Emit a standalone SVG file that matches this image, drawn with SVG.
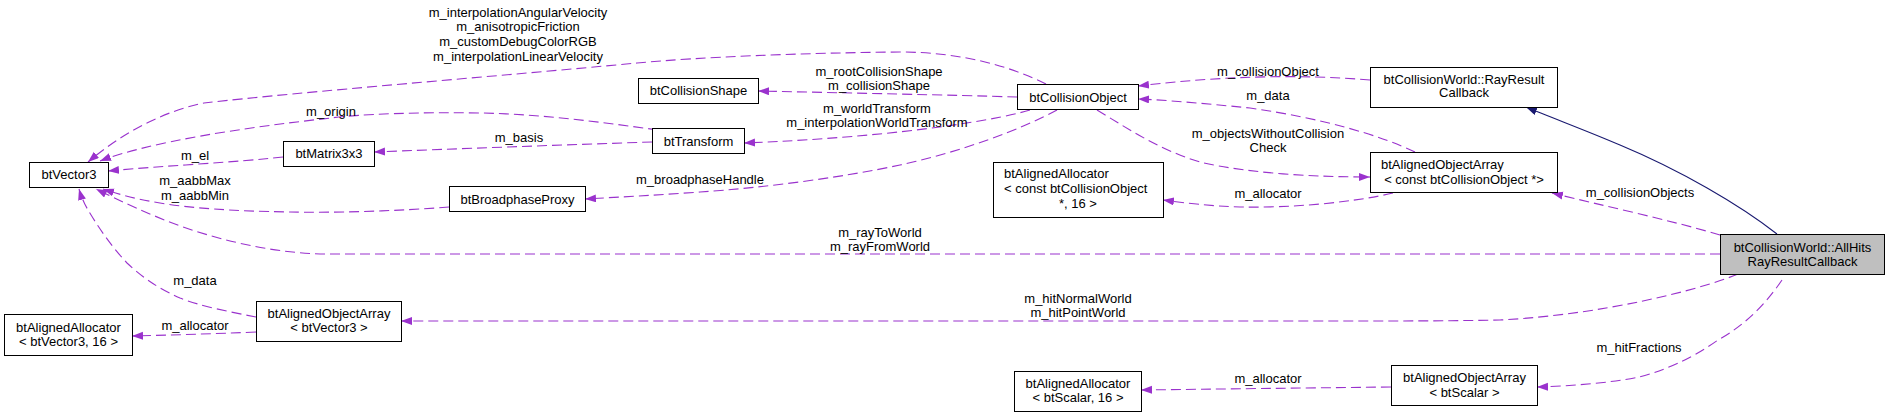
<svg xmlns="http://www.w3.org/2000/svg" width="1889" height="417" viewBox="0 0 1889 417">
<style>
text{font-family:"Liberation Sans",Arial,Helvetica,sans-serif;font-size:13px;fill:#000}
.c{text-anchor:middle}
.n rect{fill:#fff;stroke:#000;stroke-width:1}
.n rect.cur{fill:#bfbfbf}
.e path{fill:none;stroke:#9a32cd;stroke-width:1.1;stroke-dasharray:10,5;marker-end:url(#pa)}
.e path.inh{stroke:#191970;stroke-dasharray:none;marker-end:url(#ba)}
</style>
<defs>
<marker id="pa" markerUnits="userSpaceOnUse" markerWidth="12" markerHeight="9" refX="11" refY="4" orient="auto"><path d="M0,0 L11,4 L0,8 z" fill="#9a32cd"/></marker>
<marker id="ba" markerUnits="userSpaceOnUse" markerWidth="12" markerHeight="9" refX="11" refY="4" orient="auto"><path d="M0,0 L11,4 L0,8 z" fill="#191970"/></marker>
</defs>
<rect width="1889" height="417" fill="#fff"/>
<g id="edges" class="e">
<path d="M1046,84 C1010,66 960,52 900,52 C800,53 700,57 637,63 C500,76 300,92 204,103 C160,112 120,135 88,162"/>
<path d="M658,130 C600,122 540,114 480,113 C420,112 360,114 331,118 C240,128 150,142 100,161"/>
<path d="M283,157 C240,162 160,166 108,171"/>
<path d="M652,142 C560,145 450,149 374,152"/>
<path d="M449,207 C400,211 330,213 290,212 C230,211 190,208 160,203 C135,199 118,194 103,189"/>
<path d="M1017,97 C950,95 850,93 758,91"/>
<path d="M1030,110 C990,122 880,138 744,143"/>
<path d="M1057,110 C1020,130 960,152 900,165 C840,178 760,188 700,192 C660,195 620,197 585,199"/>
<path d="M1370,80 C1300,74 1220,76 1138,86"/>
<path d="M1415,152 C1380,135 1320,118 1250,108 C1200,103 1165,100 1138,99"/>
<path d="M1097,110 C1130,130 1160,150 1200,162 C1250,174 1320,177 1370,177"/>
<path d="M1393,193 C1350,203 1290,208 1240,207 C1210,206 1185,203 1163,200"/>
<path class="inh" d="M1777,234 C1740,205 1680,170 1620,145 C1590,132 1555,119 1526,107"/>
<path d="M1720,235 C1670,220 1600,205 1552,193"/>
<path d="M1720,254 L330,254 C280,254 230,243 183,227 C150,215 120,201 96,189"/>
<path d="M1738,274 C1700,290 1600,315 1500,320 C1450,321 1400,321 1350,321 L401,321"/>
<path d="M256,317 C230,312 200,306 180,298 C155,287 140,275 127,263 C110,245 97,225 88,210 C84,203 81,196 79,189"/>
<path d="M256,332 C210,334 170,335 132,336"/>
<path d="M1782,280 C1765,305 1745,325 1718,340 C1690,360 1660,372 1639,377 C1610,383 1570,386 1537,387"/>
<path d="M1391,387 C1300,388 1220,389 1141,390"/>
</g>
<g id="edge-labels">
<text class="c" x="518" y="16.5">m_interpolationAngularVelocity</text>
<text class="c" x="518" y="30.5">m_anisotropicFriction</text>
<text class="c" x="518" y="45.5">m_customDebugColorRGB</text>
<text class="c" x="518" y="60.5">m_interpolationLinearVelocity</text>
<text class="c" x="331" y="115.5">m_origin</text>
<text class="c" x="195" y="159.5">m_el</text>
<text class="c" x="519" y="141.5">m_basis</text>
<text class="c" x="195" y="184.5">m_aabbMax</text>
<text class="c" x="195" y="199.5">m_aabbMin</text>
<text class="c" x="879" y="75.5">m_rootCollisionShape</text>
<text class="c" x="879" y="89.5">m_collisionShape</text>
<text class="c" x="877" y="112.5">m_worldTransform</text>
<text class="c" x="877" y="126.5">m_interpolationWorldTransform</text>
<text class="c" x="700" y="183.5">m_broadphaseHandle</text>
<text class="c" x="1268" y="75.5">m_collisionObject</text>
<text class="c" x="1268" y="99.5">m_data</text>
<text class="c" x="1268" y="137.5">m_objectsWithoutCollision</text>
<text class="c" x="1268" y="151.5">Check</text>
<text class="c" x="1268" y="197.5">m_allocator</text>
<text class="c" x="1640" y="196.5">m_collisionObjects</text>
<text class="c" x="880" y="236.5">m_rayToWorld</text>
<text class="c" x="880" y="250.5">m_rayFromWorld</text>
<text class="c" x="1078" y="302.5">m_hitNormalWorld</text>
<text class="c" x="1078" y="316.5">m_hitPointWorld</text>
<text class="c" x="195" y="284.5">m_data</text>
<text class="c" x="195" y="329.5">m_allocator</text>
<text class="c" x="1639" y="351.5">m_hitFractions</text>
<text class="c" x="1268" y="382.5">m_allocator</text>
</g>
<g id="btVector3" class="n"><rect x="29.5" y="162.5" width="79" height="25"/><text class="c" x="69" y="179">btVector3</text></g>
<g id="btMatrix3x3" class="n"><rect x="283.5" y="141.5" width="91" height="25"/><text class="c" x="329" y="158">btMatrix3x3</text></g>
<g id="btBroadphaseProxy" class="n"><rect x="449.5" y="186.5" width="136" height="25"/><text class="c" x="517.5" y="203.5">btBroadphaseProxy</text></g>
<g id="btCollisionShape" class="n"><rect x="638.5" y="78.5" width="120" height="25"/><text class="c" x="698.5" y="95">btCollisionShape</text></g>
<g id="btTransform" class="n"><rect x="652.5" y="128.5" width="92" height="25"/><text class="c" x="698.5" y="145.5">btTransform</text></g>
<g id="btCollisionObject" class="n"><rect x="1017.5" y="84.5" width="121" height="25"/><text class="c" x="1078" y="101.5">btCollisionObject</text></g>
<g id="RayResultCallback" class="n"><rect x="1370.5" y="67.5" width="187" height="40"/><text class="c" x="1464" y="83.5">btCollisionWorld::RayResult</text><text class="c" x="1464" y="97">Callback</text></g>
<g id="AllocatorConstCollisionObject" class="n"><rect x="993.5" y="162.5" width="170" height="55"/><text x="1004" y="177.5">btAlignedAllocator</text><text x="1004" y="192.5">&lt; const btCollisionObject</text><text class="c" x="1078" y="207.5">*, 16 &gt;</text></g>
<g id="ArrayConstCollisionObject" class="n"><rect x="1370.5" y="152.5" width="187" height="40"/><text x="1381" y="168.5">btAlignedObjectArray</text><text class="c" x="1464" y="183.5">&lt; const btCollisionObject *&gt;</text></g>
<g id="AllHitsRayResultCallback" class="n"><rect class="cur" x="1720.5" y="234.5" width="164" height="40"/><text class="c" x="1802.5" y="251.5">btCollisionWorld::AllHits</text><text class="c" x="1802.5" y="265.5">RayResultCallback</text></g>
<g id="AllocatorVector3" class="n"><rect x="4.5" y="314.5" width="128" height="41"/><text class="c" x="68.5" y="331.5">btAlignedAllocator</text><text class="c" x="68.5" y="345.5">&lt; btVector3, 16 &gt;</text></g>
<g id="ArrayVector3" class="n"><rect x="256.5" y="301.5" width="145" height="40"/><text class="c" x="329" y="317.5">btAlignedObjectArray</text><text class="c" x="329" y="332">&lt; btVector3 &gt;</text></g>
<g id="AllocatorScalar" class="n"><rect x="1014.5" y="371.5" width="127" height="40"/><text class="c" x="1078" y="387.5">btAlignedAllocator</text><text class="c" x="1078" y="401.5">&lt; btScalar, 16 &gt;</text></g>
<g id="ArrayScalar" class="n"><rect x="1391.5" y="365.5" width="146" height="40"/><text class="c" x="1464.5" y="381.5">btAlignedObjectArray</text><text class="c" x="1464.5" y="396.5">&lt; btScalar &gt;</text></g>
</svg>
